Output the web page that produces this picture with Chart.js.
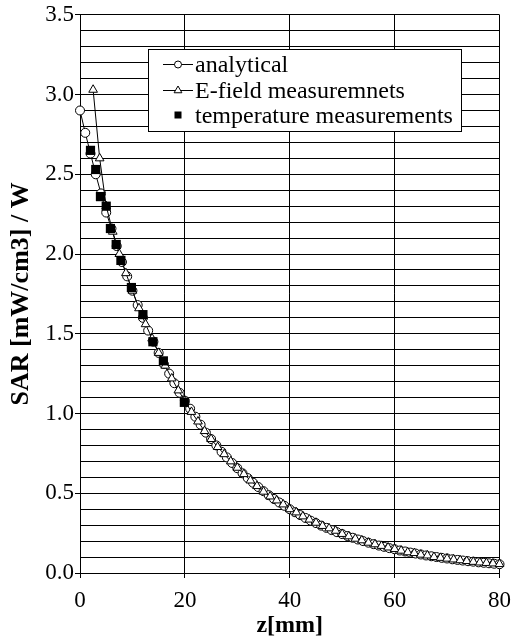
<!DOCTYPE html>
<html>
<head>
<meta charset="utf-8">
<script src="https://cdn.jsdelivr.net/npm/chart.js@4.4.1/dist/chart.umd.min.js"></script>
<style>
  html, body { margin: 0; padding: 0; background: #fff; }
  #wrap { width: 520px; height: 643px; }
</style>
</head>
<body>
<div id="wrap"><canvas id="c" width="520" height="643"></canvas></div>
<script>
// ---- data ----
const analyticalZ = [0,1,2,3,4,5,6,7,8,9,10,11,12,13,14,15,16,17,18,19,20,21,22,23,24,25,26,27,28,29,30,31,32,33,34,35,36,37,38,39,40,41,42,43,44,45,46,47,48,49,50,51,52,53,54,55,56,57,58,59,60,61,62,63,64,65,66,67,68,69,70,71,72,73,74,75,76,77,78,79,80];
const analyticalSAR = [2.90,2.76,2.63,2.50,2.38,2.26,2.16,2.05,1.95,1.86,1.77,1.68,1.60,1.52,1.45,1.38,1.31,1.25,1.19,1.13,1.08,1.03,0.98,0.93,0.88,0.84,0.80,0.76,0.725,0.69,0.657,0.625,0.595,0.566,0.539,0.513,0.488,0.464,0.442,0.421,0.400,0.381,0.363,0.345,0.328,0.313,0.297,0.283,0.269,0.256,0.244,0.232,0.221,0.210,0.200,0.190,0.181,0.172,0.164,0.156,0.149,0.141,0.135,0.128,0.122,0.116,0.110,0.105,0.100,0.095,0.091,0.086,0.082,0.078,0.074,0.071,0.067,0.064,0.061,0.058,0.055];

const efieldZ = [2.5,3.75,5,6.25,7.5,8.75,10,11.25,12.5,13.75,15,16.25,17.5,18.75,20,21.25,22.5,23.75,25,26.25,27.5,28.75,30,31.25,32.5,33.75,35,36.25,37.5,38.75,40,41.25,42.5,43.75,45,46.25,47.5,48.75,50,51.25,52.5,53.75,55,56.25,57.5,58.75,60,61.25,62.5,63.75,65,66.25,67.5,68.75,70,71.25,72.5,73.75,75,76.25,77.5,78.75,80];
const efieldSAR = [3.03,2.60,2.30,2.14,2.00,1.88,1.77,1.66,1.56,1.47,1.38,1.30,1.22,1.145,1.08,1.01,0.95,0.89,0.84,0.79,0.745,0.70,0.66,0.62,0.58,0.545,0.51,0.48,0.455,0.43,0.40,0.38,0.355,0.335,0.315,0.295,0.28,0.265,0.245,0.23,0.215,0.205,0.19,0.18,0.17,0.16,0.15,0.14,0.13,0.125,0.115,0.11,0.10,0.095,0.09,0.085,0.08,0.075,0.07,0.066,0.063,0.06,0.056];

const tempZ = [2.0,3.0,3.9,5.0,5.8,6.9,7.8,9.8,12.0,13.9,15.9,19.9];
const tempSAR = [2.65,2.53,2.36,2.30,2.16,2.06,1.96,1.79,1.62,1.45,1.33,1.07];

const seriesNames = ['analytical', 'E-field measuremnets', 'temperature measurements'];
const xTitle = 'z[mm]';
const yTitle = 'SAR [mW/cm3] / W';
const yLabelStep = 0.5;

const toPts = (xs, ys) => xs.map((x, i) => ({x: x, y: ys[i]}));

const FONT = '"Liberation Serif", "Times New Roman", serif';

const legendPlugin = {
  id: 'boxLegend',
  afterDraw(chart) {
    const ctx = chart.ctx;
    ctx.save();
    ctx.font = '24px ' + FONT;
    const left = 148, top = 49, bottom = 131;
    const textX = 195;
    let maxW = 0;
    seriesNames.forEach(n => { maxW = Math.max(maxW, ctx.measureText(n).width); });
    const right = Math.round(textX + maxW + 8);
    ctx.fillStyle = '#fff';
    ctx.fillRect(left + 0.5, top + 0.5, right - left, bottom - top);
    ctx.strokeStyle = '#000';
    ctx.lineWidth = 1;
    ctx.strokeRect(left + 0.5, top + 0.5, right - left, bottom - top);
    const rows = [64, 90, 115];
    const symX = 178;
    ctx.textBaseline = 'middle';
    rows.forEach((y, i) => {
      ctx.fillStyle = '#000';
      ctx.fillText(seriesNames[i], textX, y + 2);
      if (i < 2) {
        ctx.beginPath();
        ctx.moveTo(163, y + 0.5);
        ctx.lineTo(193, y + 0.5);
        ctx.stroke();
      }
      ctx.beginPath();
      if (i === 0) {
        ctx.arc(symX, y + 0.5, 3.5, 0, Math.PI * 2);
        ctx.fillStyle = '#fff'; ctx.fill(); ctx.stroke();
      } else if (i === 1) {
        const r = 4.5;
        ctx.moveTo(symX, y + 0.5 - r);
        ctx.lineTo(symX + r * 0.866, y + 0.5 + r * 0.5);
        ctx.lineTo(symX - r * 0.866, y + 0.5 + r * 0.5);
        ctx.closePath();
        ctx.fillStyle = '#fff'; ctx.fill(); ctx.stroke();
      } else {
        ctx.fillStyle = '#000';
        ctx.fillRect(symX - 3.5, y - 3.5, 7, 7);
      }
    });
    ctx.restore();
  }
};

new Chart(document.getElementById('c'), {
  type: 'scatter',
  data: {
    datasets: [
      {
        label: seriesNames[0],
        data: toPts(analyticalZ, analyticalSAR),
        showLine: true,
        clip: false,
        borderColor: '#000',
        borderWidth: 1,
        pointStyle: 'circle',
        pointRadius: 4.5,
        pointBackgroundColor: '#fff',
        pointBorderColor: '#000',
        pointBorderWidth: 1,
        order: 3
      },
      {
        label: seriesNames[1],
        data: toPts(efieldZ, efieldSAR),
        showLine: true,
        clip: false,
        borderColor: '#000',
        borderWidth: 1,
        pointStyle: 'triangle',
        pointRadius: 5,
        pointBackgroundColor: '#fff',
        pointBorderColor: '#000',
        pointBorderWidth: 1,
        order: 2
      },
      {
        label: seriesNames[2],
        data: toPts(tempZ, tempSAR),
        showLine: false,
        clip: false,
        pointStyle: 'rect',
        pointRadius: 6.5,
        pointBackgroundColor: '#000',
        pointBorderColor: '#000',
        pointBorderWidth: 0,
        order: 1
      }
    ]
  },
  options: {
    responsive: false,
    animation: false,
    devicePixelRatio: 1,
    layout: { padding: { top: 13, right: 14, left: 0, bottom: 0 } },
    plugins: { legend: { display: false }, tooltip: { enabled: false } },
    scales: {
      x: {
        type: 'linear',
        min: 0, max: 80,
        afterFit: s => { s.height = 70; },
        ticks: { stepSize: 20, color: '#000', font: { family: FONT, size: 23 }, padding: 9, maxRotation: 0 },
        grid: { color: '#000', lineWidth: 1, tickLength: 5, tickColor: '#000' },
        border: { color: '#000', width: 1 },
        title: { display: true, text: xTitle, color: '#000', font: { family: FONT, size: 24, weight: 'bold' }, padding: { top: 0, bottom: 3 } }
      },
      y: {
        type: 'linear',
        min: 0, max: 3.5,
        afterFit: s => { s.width = 80; },
        ticks: {
          stepSize: 0.1,
          color: '#000',
          font: { family: FONT, size: 23 },
          padding: 1,
          autoSkip: false,
          callback: v => {
            const k = Math.round(v / yLabelStep);
            return Math.abs(v - k * yLabelStep) < 1e-6 ? v.toFixed(1) : '';
          }
        },
        grid: {
          color: '#000',
          lineWidth: 1,
          tickLength: 5,
          tickColor: c => {
            const v = c.tick ? c.tick.value : 0;
            const k = Math.round(v / yLabelStep);
            return Math.abs(v - k * yLabelStep) < 1e-6 ? '#000' : 'rgba(0,0,0,0)';
          }
        },
        border: { color: '#000', width: 1 },
        title: { display: true, text: yTitle, color: '#000', font: { family: FONT, size: 26, weight: 'bold' }, padding: { top: 6, bottom: 0 } }
      }
    }
  },
  plugins: [legendPlugin]
});
</script>
</body>
</html>
